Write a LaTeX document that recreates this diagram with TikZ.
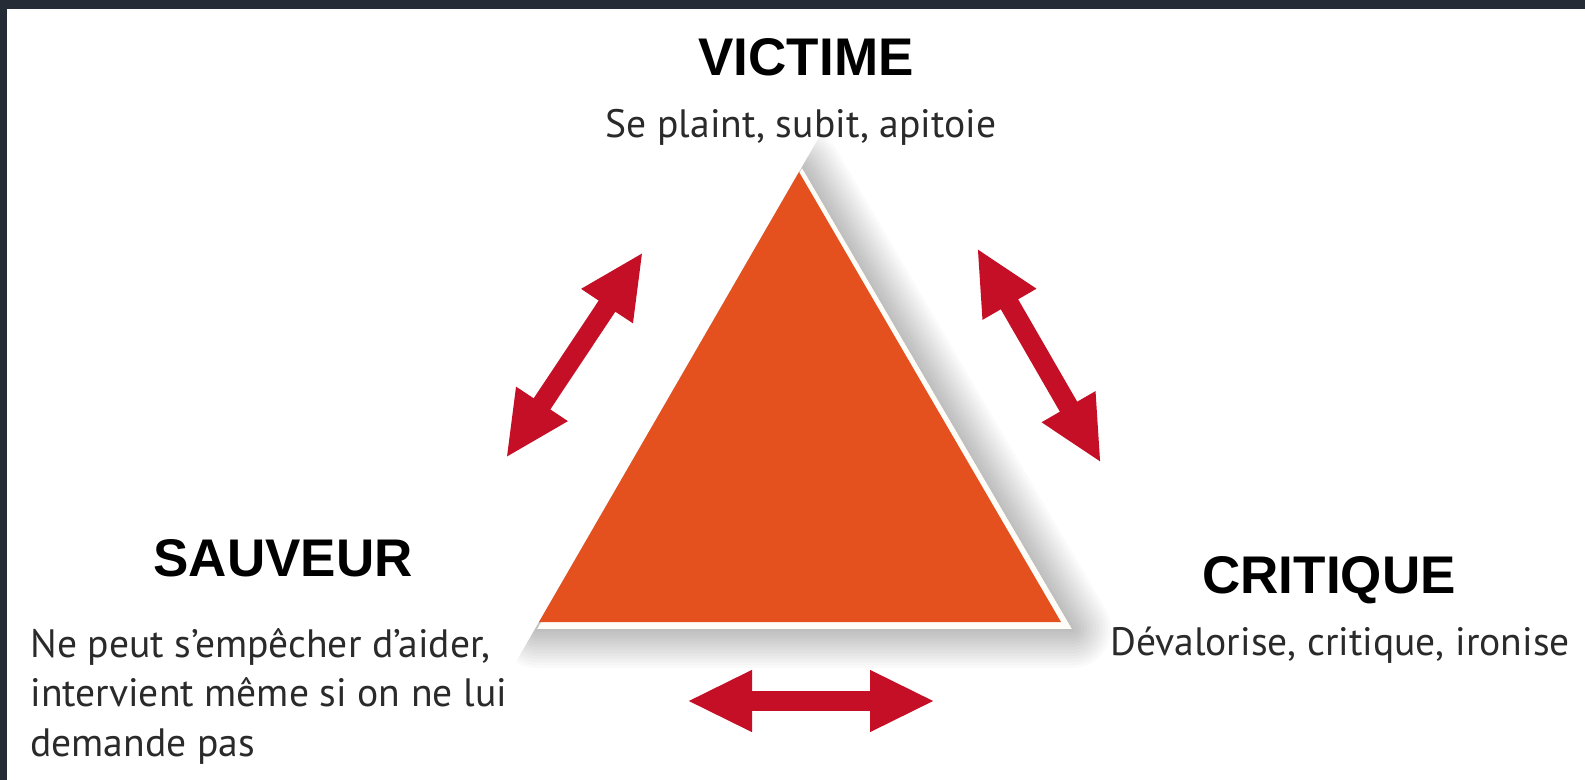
\documentclass[tikz,border=0pt]{standalone}
\usepackage{fontspec}
\usetikzlibrary{arrows.meta}
\newfontfamily\titlefont{Liberation Sans}
\newfontfamily\bodyfont{PT Sans}
\definecolor{framecol}{HTML}{252C35}
\definecolor{tricol}{HTML}{E4511F}
\definecolor{arrcol}{HTML}{C40F26}
\definecolor{bodycol}{HTML}{2A2A2A}
\definecolor{rimcol}{HTML}{FFFDF8}
\begin{document}
\begin{tikzpicture}[x=0.5pt,y=-0.5pt,
  roletitle/.style={font=\titlefont\bfseries\fontsize{26.5pt}{30pt}\selectfont, inner sep=0pt, anchor=base},
  roledesc/.style={font=\bodyfont\fontsize{19.8pt}{24.75pt}\selectfont, text=bodycol, inner sep=0pt},
  shadowlayer/.style={fill=black, draw=black, opacity=0.019, line join=round},
  dblarrow/.style={draw=arrcol, line width=10pt,
    {Triangle[length=32.5pt,width=28.5pt]}-{Triangle[length=32.5pt,width=28.5pt]}}]
\useasboundingbox (0,0) rectangle (1585,780);
\fill[white] (0,0) rectangle (1585,780);
\fill[framecol] (0,0) rectangle (1585,9);
\fill[framecol] (0,0) rectangle (7,780);
% triangle coordinates
\coordinate (A) at (799,172);
\coordinate (B) at (539,622);
\coordinate (C) at (1061,622);
\coordinate (WA) at (802,168);
\coordinate (WB) at (537,629);
\coordinate (WC) at (1072,629);
% soft shadow (right and below)
\begin{scope}
  \clip (929,-53) -- (409,847) -- (1700,847) -- (1700,-53) -- cycle;
  \foreach \w in {6,12,...,78}{
    \path[shadowlayer, line width=\w*0.5pt, xshift=5pt, yshift=-2pt] (WA) -- (WC) -- (WB) -- cycle;
  }
\end{scope}
% white rim and orange triangle
\fill[rimcol] (WA) -- (WC) -- (WB) -- cycle;
\fill[tricol] (A) -- (C) -- (B) -- cycle;
% arrows
\coordinate (l1) at (506,458);
\coordinate (l2) at (643,252);
\coordinate (r1) at (977,248);
\coordinate (r2) at (1101,463);
\coordinate (b1) at (687,701);
\coordinate (b2) at (935,701);
\draw[dblarrow] (l1) -- (l2);
\draw[dblarrow] (r1) -- (r2);
\draw[dblarrow] (b1) -- (b2);
% texts
\node[roletitle] (victime) at (806,76) {VICTIME};
\node[roledesc, anchor=base] (victdesc) at (801,138) {Se plaint, subit, apitoie};
\node[roletitle] (sauveur) at (283,576) {SAUVEUR};
\node[roledesc, anchor=base west, align=left] (sauvdesc) at (30,756)
  {Ne peut s’empêcher d’aider,\\intervient même si on ne lui\\demande pas};
\node[roletitle] (critique) at (1329,593) {CRITIQUE};
\node[roledesc, anchor=base] (critdesc) at (1340,655) {Dévalorise, critique, ironise};
\end{tikzpicture}
\end{document}
